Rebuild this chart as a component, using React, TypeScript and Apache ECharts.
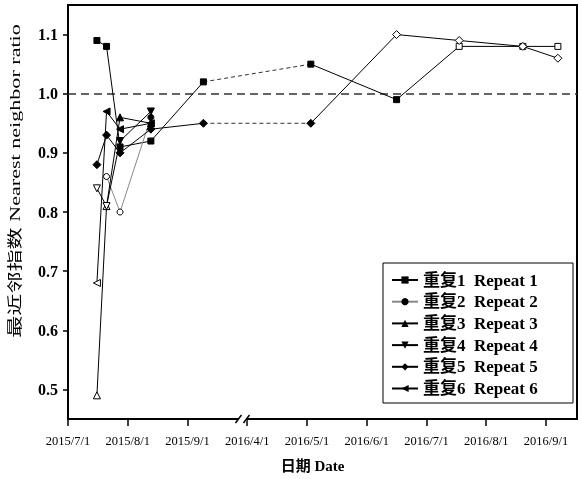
import React, { useEffect, useRef } from "react";
import * as echarts from "echarts";

// ---------- data ----------
const tickDates = ["2015/7/1", "2015/8/1", "2015/9/1", "2016/4/1", "2016/5/1", "2016/6/1", "2016/7/1", "2016/8/1", "2016/9/1"];
const yTicks = [0.5, 0.6, 0.7, 0.8, 0.9, 1.0, 1.1];
const seriesNames = ["重复1  Repeat 1", "重复2  Repeat 2", "重复3  Repeat 3", "重复4  Repeat 4", "重复5  Repeat 5", "重复6  Repeat 6"];

const s1Dates = ["2015/7/16", "2015/7/21", "2015/7/28", "2015/8/13", "2015/9/9", "2016/5/3", "2016/6/16", "2016/7/18", "2016/8/20", "2016/9/7"];
const s1Values = [1.09, 1.08, 0.91, 0.92, 1.02, 1.05, 0.99, 1.08, 1.08, 1.08];
const s1Hollow = [0, 0, 0, 0, 0, 0, 0, 1, 1, 1];

const s2Dates = ["2015/7/21", "2015/7/28", "2015/8/13"];
const s2Values = [0.86, 0.80, 0.96];
const s2Hollow = [1, 1, 0];

const s3Dates = ["2015/7/16", "2015/7/21", "2015/7/28", "2015/8/13"];
const s3Values = [0.49, 0.81, 0.96, 0.95];
const s3Hollow = [1, 1, 0, 0];

const s4Dates = ["2015/7/16", "2015/7/21", "2015/7/28", "2015/8/13"];
const s4Values = [0.84, 0.81, 0.92, 0.97];
const s4Hollow = [1, 1, 0, 0];

const s5Dates = ["2015/7/16", "2015/7/21", "2015/7/28", "2015/8/13", "2015/9/9", "2016/5/3", "2016/6/16", "2016/7/18", "2016/8/20", "2016/9/7"];
const s5Values = [0.88, 0.93, 0.90, 0.94, 0.95, 0.95, 1.10, 1.09, 1.08, 1.06];
const s5Hollow = [0, 0, 0, 0, 0, 0, 1, 1, 1, 1];

const s6Dates = ["2015/7/16", "2015/7/21", "2015/7/28", "2015/8/13"];
const s6Values = [0.68, 0.97, 0.94, 0.95];
const s6Hollow = [1, 0, 0, 0];

const referenceValue = 1.0;
const xLabel = "日期 Date";
const yLabel = "最近邻指数 Nearest neighbor ratio";

// ---------- helpers ----------
const DAY = 86400000;
const BREAK_POS = 2.92;
function toTime(s: string) {
  const [y, m, d] = s.split("/").map(Number);
  return Date.UTC(y, m - 1, d);
}
const tickTimes = tickDates.map(toTime);
function datePos(s: string) {
  const t = toTime(s);
  for (let i = 0; i < tickTimes.length - 1; i++) {
    if (t >= tickTimes[i] && t < tickTimes[i + 1]) {
      const span = i === 2 ? 30 * DAY : tickTimes[i + 1] - tickTimes[i];
      return i + Math.min((t - tickTimes[i]) / span, 0.9);
    }
  }
  const last = tickTimes.length - 1;
  return last + (t - tickTimes[last]) / (30 * DAY);
}

const FONT = "'Liberation Serif', 'Times New Roman', 'Noto Sans CJK SC', serif";

function build(name: string, dates: string[], values: number[], hollow: number[], symbol: string, rotate: number, size: number, color: string) {
  const pts = dates.map((d, i) => ({
    value: [datePos(d), values[i]],
    itemStyle: hollow[i] ? { color: "#fff", borderColor: "#000", borderWidth: 1 } : undefined,
  }));
  const segs: any[][] = [[]];
  const dashed: any[] = [];
  pts.forEach((p, i) => {
    segs[segs.length - 1].push(p);
    const n = pts[i + 1];
    if (n && p.value[0] < BREAK_POS && n.value[0] > BREAK_POS) {
      dashed.push([p.value, n.value]);
      segs.push([]);
    }
  });
  const base = {
    type: "line",
    symbol,
    symbolRotate: rotate,
    symbolSize: size,
    itemStyle: { color: "#000", borderColor: "#000" },
    lineStyle: { color, width: 1 },
    z: 3,
  };
  const out: any[] = segs.map((seg) => ({ ...base, name, data: seg }));
  dashed.forEach((d) => {
    out.push({
      type: "line",
      data: d,
      symbol: "none",
      lineStyle: { color: "#333", width: 1, type: [4, 3] },
      z: 2,
      silent: true,
    });
  });
  return out;
}

export default function App() {
  const ref = useRef<HTMLDivElement>(null);
  useEffect(() => {
    if (!ref.current) return;
    const chart = echarts.init(ref.current, undefined, { renderer: "svg" });
    const series = [
      ...build(seriesNames[0], s1Dates, s1Values, s1Hollow, "rect", 0, 6, "#000"),
      ...build(seriesNames[1], s2Dates, s2Values, s2Hollow, "circle", 0, 6, "#888"),
      ...build(seriesNames[2], s3Dates, s3Values, s3Hollow, "triangle", 0, 7, "#000"),
      ...build(seriesNames[3], s4Dates, s4Values, s4Hollow, "triangle", 180, 7, "#000"),
      ...build(seriesNames[4], s5Dates, s5Values, s5Hollow, "diamond", 0, 8, "#000"),
      ...build(seriesNames[5], s6Dates, s6Values, s6Hollow, "triangle", 90, 7, "#000"),
    ];
    series[0].markLine = {
      silent: true,
      symbol: "none",
      label: { show: false },
      lineStyle: { color: "#333", width: 1.5, type: [8, 5] },
      data: [{ yAxis: referenceValue }],
      z: 1,
    };
    const tickPositions = tickDates.map((_, i) => i);
    chart.setOption({
      animation: false,
      grid: { left: 68, right: 4, top: 5, bottom: 60, show: true, borderColor: "#000", borderWidth: 2, backgroundColor: "transparent" },
      xAxis: {
        type: "value",
        min: 0,
        max: 8.52,
        interval: 1,
        splitLine: { show: false },
        axisLine: { lineStyle: { color: "#000", width: 2 } },
        axisTick: { show: true, length: 7, lineStyle: { color: "#000", width: 1.5 }, customValues: tickPositions },
        axisLabel: {
          customValues: tickPositions,
          formatter: (v: number) => tickDates[Math.round(v)] ?? "",
          fontFamily: FONT,
          fontSize: 12.5,
          color: "#000",
          margin: 16,
        },
        name: xLabel,
        nameLocation: "middle",
        nameGap: 39,
        nameTextStyle: { fontFamily: FONT, fontSize: 15, fontWeight: "bold", color: "#000", padding: [0, 20, 0, 0] },
      },
      yAxis: {
        type: "value",
        min: 0.45,
        max: 1.15,
        splitLine: { show: false },
        axisLine: { show: true, lineStyle: { color: "#000", width: 2 } },
        axisTick: { show: true, length: 5, lineStyle: { color: "#000", width: 1.5 }, customValues: yTicks },
        axisLabel: {
          customValues: yTicks,
          formatter: (v: number) => v.toFixed(1),
          fontFamily: FONT,
          fontSize: 16,
          fontWeight: "bold",
          color: "#000",
          margin: 10,
        },
      },
      legend: {
        orient: "vertical",
        left: 391,
        top: 270,
        padding: 0,
        itemWidth: 26,
        itemHeight: 9,
        itemGap: 1.7,
        data: seriesNames,
        textStyle: { fontFamily: FONT, fontSize: 17, fontWeight: "bold", color: "#000", lineHeight: 20 },
      },
      series,
    });
    const bx = chart.convertToPixel({ xAxisIndex: 0 }, BREAK_POS) as number;
    const by = chart.convertToPixel({ yAxisIndex: 0 }, 0.45) as number;
    chart.setOption({
      graphic: [
        { type: "rect", shape: { x: 383, y: 263, width: 190, height: 140 }, style: { fill: "none", stroke: "#000", lineWidth: 1 }, z: 10 },
        { type: "rect", shape: { x: bx - 4, y: by - 2, width: 8, height: 4 }, style: { fill: "#fff" }, z: 10 },
        { type: "line", shape: { x1: bx - 7, y1: by + 4, x2: bx - 1, y2: by - 4 }, style: { stroke: "#000", lineWidth: 1.5 }, z: 11 },
        { type: "line", shape: { x1: bx + 1, y1: by + 4, x2: bx + 7, y2: by - 4 }, style: { stroke: "#000", lineWidth: 1.5 }, z: 11 },
        {
          type: "text",
          x: 15,
          y: 181,
          rotation: Math.PI / 2,
          scaleX: 1.3,
          scaleY: 0.9,
          style: { text: yLabel, fontFamily: FONT, fontSize: 17, fill: "#000", align: "center", verticalAlign: "middle" },
          z: 10,
        },
      ],
    });
    return () => chart.dispose();
  }, []);
  return <div ref={ref} style={{ position: "fixed", left: 0, top: 0, width: 581, height: 479 }} />;
}
